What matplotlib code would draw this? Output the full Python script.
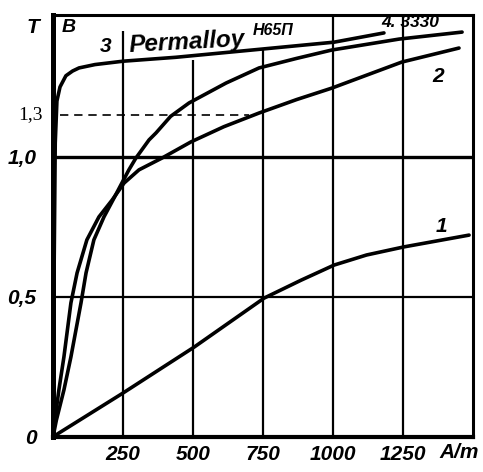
import matplotlib
matplotlib.use('Agg')
import matplotlib.pyplot as plt
from matplotlib import font_manager

# B-H magnetisation curves (H in A/m, B in T)
h1 = [0, 21, 250, 504, 754, 886, 1004, 1120, 1254, 1370, 1486]
b1 = [0, 0.014, 0.157, 0.321, 0.496, 0.56, 0.614, 0.65, 0.679, 0.70, 0.721]

h2 = [0, 8, 21, 39, 64, 86, 121, 164, 211, 254, 307, 389, 493, 610, 736, 870, 996, 1246, 1450]
b2 = [0, 0.07, 0.168, 0.286, 0.479, 0.586, 0.704, 0.786, 0.846, 0.907, 0.954, 0.996, 1.054,
      1.108, 1.157, 1.205, 1.246, 1.339, 1.389]

h3 = [0, 4, 8, 14, 25, 46, 70, 93, 150, 250, 439, 743, 1004, 1182]
b3 = [0, 0.6, 1.05, 1.2, 1.25, 1.29, 1.307, 1.318, 1.33, 1.342, 1.356, 1.385, 1.41, 1.443]

h4 = [0, 12, 39, 64, 100, 118, 146, 182, 214, 246, 271, 296, 343, 368, 420, 486, 618, 736, 870,
      996, 1236, 1461]
b4 = [0, 0.06, 0.168, 0.286, 0.479, 0.586, 0.704, 0.786, 0.846, 0.907, 0.954, 0.996, 1.061,
      1.086, 1.145, 1.193, 1.264, 1.318, 1.352, 1.382, 1.421, 1.446]

xticks = [250, 500, 750, 1000, 1250]
xlabels = ['250', '500', '750', '1000', '1250']
yticks = [0, 0.5, 1.0]
ylabels = ['0', '0,5', '1,0']
# how far up each vertical grid line reaches (stops under the lettering)
grid_top = [1.45, 1.346, 1.39, 1.51, 1.51]

names = {f.name for f in font_manager.fontManager.ttflist}
fam = 'Liberation Sans Narrow' if 'Liberation Sans Narrow' in names else 'Liberation Sans'
lab = dict(family=fam, weight='bold', style='italic')

fig = plt.figure(figsize=(4.83, 4.72), dpi=100)
ax = fig.add_axes([53 / 483, 35 / 472, 420 / 483, 422 / 472])
ax.set_xlim(0, 1500)
ax.set_ylim(0, 1.507)

# grid
for x, top in zip(xticks, grid_top):
    ax.plot([x, x], [0, top], color='black', lw=1.6, solid_capstyle='butt')
ax.axhline(0.5, color='black', lw=1.6)
ax.axhline(1.0, color='black', lw=2.4)
ax.plot([25, 700], [1.15, 1.15], color='black', lw=1.2, dashes=(5, 3.5))

for h, b in [(h1, b1), (h2, b2), (h3, b3), (h4, b4)]:
    ax.plot(h, b, color='black', lw=2.6, solid_joinstyle='round', solid_capstyle='round')

for side, w in [('left', 3.6), ('bottom', 3.0), ('top', 2.2), ('right', 2.2)]:
    ax.spines[side].set_linewidth(w)

ax.set_xticks(xticks)
ax.set_xticklabels(xlabels, fontsize=15, **lab)
ax.set_yticks(yticks)
ax.set_yticklabels(ylabels, fontsize=15, **lab)
ax.tick_params(length=0, pad=6)
ax.tick_params(axis='y', pad=12)

ax.text(1380, -0.055, 'A/m', fontsize=15, ha='left', va='center', clip_on=False, **lab)
ax.text(-71, 1.464, 'T', fontsize=15, ha='center', va='center', clip_on=False, **lab)
ax.text(57, 1.464, 'B', fontsize=14, ha='center', va='center', **lab)
ax.text(189, 1.393, '3', fontsize=15, ha='center', va='center', **lab)
ax.text(268, 1.41, 'Permalloy', fontsize=17.5, ha='left', va='center', rotation=3, **lab)
ax.text(712, 1.452, 'H65П', fontsize=11.5, ha='left', va='center', **lab)
ax.text(1171, 1.48, '4. 3330', fontsize=12.5, ha='left', va='center', **lab)
ax.text(1375, 1.286, '2', fontsize=15, ha='center', va='center', **lab)
ax.text(1386, 0.75, '1', fontsize=15, ha='center', va='center', **lab)
ax.text(-79, 1.15, '1,3', fontsize=14, family='Liberation Serif', ha='center', va='center', clip_on=False)

fig.savefig('out.png', dpi=100)
